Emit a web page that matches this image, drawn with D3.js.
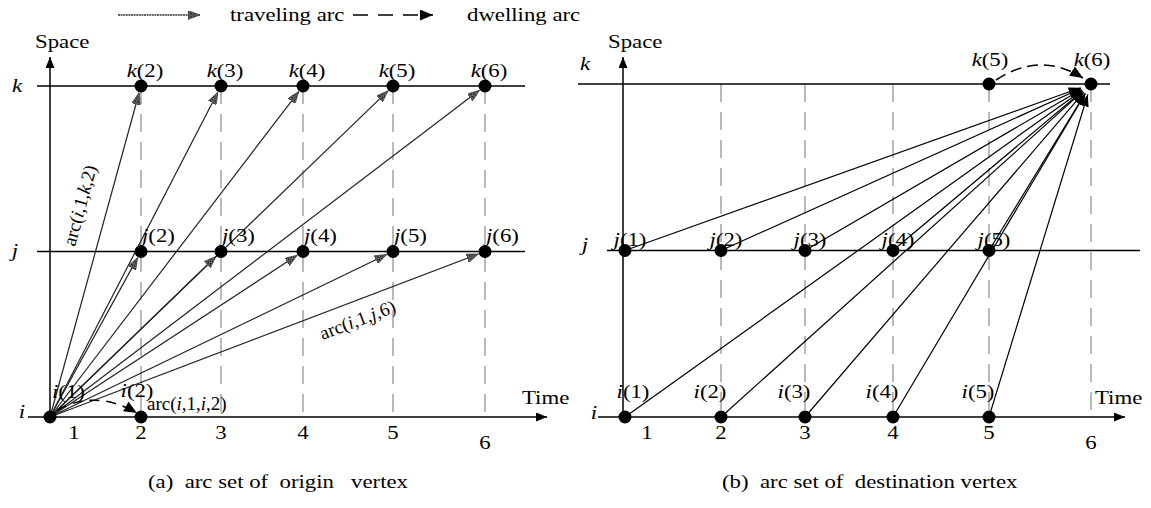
<!DOCTYPE html>
<html><head><meta charset="utf-8">
<script src="https://cdn.jsdelivr.net/npm/d3@7"></script>
<style>
body{margin:0;background:#fff}
svg{display:block;font-family:"Liberation Serif","Times New Roman",serif}
</style>
</head><body>
<svg id="c" width="1151" height="508"></svg>
<script>
// ---------- data ----------
const times = [1, 2, 3, 4, 5, 6];
const spaces = ["i", "j", "k"];
const tickLabels = ["1", "2", "3", "4", "5", "6"];
const legendLabels = ["traveling arc", "dwelling arc"];
const panelTitles = ["(a)  arc set of  origin   vertex", "(b)  arc set of  destination vertex"];
const axisTitles = ["Space", "Time"];

// panel (a): arcs leaving origin vertex i(1)
const originSource = ["i", 1];
const originTravelTargets = [["k",2],["k",3],["k",4],["k",5],["k",6],["j",2],["j",3],["j",4],["j",5],["j",6]];
const originDwellTarget = ["i", 2];
const originNodes = [["i",1],["i",2],["j",2],["j",3],["j",4],["j",5],["j",6],["k",2],["k",3],["k",4],["k",5],["k",6]];
const originArcLabels = [
  {from:["i",1], to:["k",2], parts:["arc(","i",",1,","k",",2)"]},
  {from:["i",1], to:["j",6], parts:["arc(","i",",1,","j",",6)"]},
  {from:["i",1], to:["i",2], parts:["arc(","i",",1,","i",",2)"]}
];

// panel (b): arcs entering destination vertex k(6)
const destTarget = ["k", 6];
const destTravelSources = [["j",1],["j",2],["j",3],["j",4],["j",5],["i",1],["i",2],["i",3],["i",4],["i",5]];
const destDwellSource = ["k", 5];
const destNodes = [["i",1],["i",2],["i",3],["i",4],["i",5],["j",1],["j",2],["j",3],["j",4],["j",5],["k",5],["k",6]];

// ---------- layout ----------
const FS = 19, SX = 1.2;
const svg = d3.select("#c");
const defs = svg.append("defs");

const hatch = defs.append("pattern").attr("id","hatch").attr("patternUnits","userSpaceOnUse")
  .attr("width",3).attr("height",3);
hatch.append("rect").attr("width",3).attr("height",3).attr("fill","#808080");
hatch.append("path").attr("d","M0,0L3,3M3,0L0,3").attr("stroke","#222").attr("stroke-width",0.9);

function marker(id, len, wid, fill, stroke) {
  const m = defs.append("marker").attr("id", id).attr("markerUnits","userSpaceOnUse")
    .attr("viewBox", `0 0 ${len} ${wid}`).attr("markerWidth", len).attr("markerHeight", wid)
    .attr("refX", len).attr("refY", wid/2).attr("orient","auto");
  m.append("path").attr("d", `M0,0L${len},${wid/2}L0,${wid}Z`).attr("fill", fill)
    .attr("stroke", stroke || "none").attr("stroke-width", 0.6);
}
marker("mHatch", 12, 9, "url(#hatch)", "#333");
marker("mBlack", 12, 9, "#000");
marker("mDwell", 13, 11, "#000");
marker("mAxis", 11, 9, "#000");

function stext(g, x, y, anchor, sx) {
  return g.append("text").attr("transform", `translate(${x},${y}) scale(${sx||SX},1)`)
    .attr("text-anchor", anchor || "start").style("font-size", FS + "px").attr("fill","#000");
}
function nodeLabel(g, x, y, anchor, letter, t) {
  const tx = stext(g, x, y, anchor);
  tx.append("tspan").style("font-style","italic").text(letter);
  tx.append("tspan").text(`(${t})`);
}
function shorten(p0, p1, d) {
  const dx = p1[0]-p0[0], dy = p1[1]-p0[1], L = Math.hypot(dx, dy);
  return [p1[0]-dx/L*d, p1[1]-dy/L*d];
}

// legend
const lg = svg.append("g");
lg.append("line").attr("x1",118).attr("y1",15).attr("x2",200).attr("y2",15)
  .attr("stroke","#333").attr("stroke-width",1.4).attr("stroke-dasharray","2,0.6").attr("marker-end","url(#mHatch)");
stext(lg, 230, 21).text(legendLabels[0]);
lg.append("line").attr("x1",353).attr("y1",15).attr("x2",433).attr("y2",15)
  .attr("stroke","#000").attr("stroke-width",1.5).attr("stroke-dasharray","15,10").attr("marker-end","url(#mDwell)");
stext(lg, 467, 21).text(legendLabels[1]);

function drawPanel(cfg) {
  const g = svg.append("g");
  const x = d3.scaleLinear().domain(times).range(cfg.xRange);
  const y = d3.scalePoint().domain(spaces).range(cfg.yRange);
  const P = n => [x(n[1]), y(n[0])];

  g.selectAll(".guide").data(times.slice(1)).join("line")
    .attr("x1", d => x(d)).attr("x2", d => x(d))
    .attr("y1", y("k")).attr("y2", y("i"))
    .attr("stroke","#8c8c8c").attr("stroke-width",1.2).attr("stroke-dasharray","18,10");

  g.append("line").attr("x1",cfg.kLine[0]).attr("x2",cfg.kLine[1]).attr("y1",y("k")).attr("y2",y("k"))
    .attr("stroke","#000").attr("stroke-width",1.3);
  g.append("line").attr("x1",cfg.jLine[0]).attr("x2",cfg.jLine[1]).attr("y1",y("j")).attr("y2",y("j"))
    .attr("stroke","#000").attr("stroke-width",1.3);
  g.append("line").attr("x1",cfg.iLine[0]).attr("x2",cfg.iLine[1]).attr("y1",y("i")).attr("y2",y("i"))
    .attr("stroke","#000").attr("stroke-width",1.5).attr("marker-end","url(#mAxis)");
  g.append("line").attr("x1",cfg.yAxisX).attr("x2",cfg.yAxisX).attr("y1",y("i")).attr("y2",cfg.yAxisTop)
    .attr("stroke","#000").attr("stroke-width",1.5).attr("marker-end","url(#mAxis)");

  stext(g, cfg.yAxisX - 15, 48).text(axisTitles[0]);
  stext(g, cfg.timeX, 404).text(axisTitles[1]);

  spaces.forEach(s => {
    const p = cfg.letterPos[s];
    stext(g, p[0], p[1], "middle").style("font-style","italic").text(s);
  });

  times.forEach((t, k) => {
    const tx = t === 1 ? x(t) + cfg.tick1Shift : x(t);
    const ty = t === 6 ? 449 : 439;
    stext(g, tx, ty, "middle").text(tickLabels[k]);
  });

  return {g, x, y, P};
}

// ---------- panel (a) ----------
const A = drawPanel({
  xRange: [50, 141, 221, 303, 393, 485], yRange: [417, 86],
  kLine: [37, 525], jLine: [37, 525], iLine: [28, 547],
  yAxisX: 50, yAxisTop: 57, timeX: 522, tick1Shift: 24,
  letterPos: {k: [17, 92], j: [15, 257], i: [22, 418]}
});
{
  const src = A.P(originSource);
  A.g.selectAll(".trav").data(originTravelTargets).join("line")
    .attr("x1", src[0]).attr("y1", src[1])
    .attr("x2", d => shorten(src, A.P(d), 7)[0]).attr("y2", d => shorten(src, A.P(d), 7)[1])
    .attr("stroke","#222").attr("stroke-width",1.2).attr("marker-end","url(#mHatch)");
  const dt = A.P(originDwellTarget);
  A.g.append("path")
    .attr("d", `M${src[0]+7},${src[1]-7}Q${(src[0]+dt[0])/2},${src[1]-28} ${dt[0]-4},${dt[1]-4}`)
    .attr("fill","none").attr("stroke","#000").attr("stroke-width",1.5).attr("stroke-dasharray","10,7")
    .attr("marker-end","url(#mDwell)");
  A.g.selectAll(".dot").data(originNodes).join("circle")
    .attr("cx", d => A.P(d)[0]).attr("cy", d => A.P(d)[1]).attr("r", 6.5).attr("fill","#000");
  originNodes.forEach(n => {
    const p = A.P(n);
    if (n[0] === "k") nodeLabel(A.g, p[0]+4, p[1]-9, "middle", n[0], n[1]);
    else if (n[0] === "j") nodeLabel(A.g, p[0]+1, p[1]-10, "start", n[0], n[1]);
    else if (n[1] === 1) nodeLabel(A.g, p[0]+2, p[1]-19, "start", n[0], n[1]);
    else nodeLabel(A.g, p[0]-4, p[1]-20, "middle", n[0], n[1]);
  });
  originArcLabels.forEach((al, idx) => {
    const p0 = A.P(al.from), p1 = A.P(al.to);
    let t;
    if (idx < 2) {
      const ang = Math.atan2(p1[1]-p0[1], p1[0]-p0[0]) * 180 / Math.PI;
      const L = idx === 0 ? 212 : 322;
      const dir = [(p1[0]-p0[0]), (p1[1]-p0[1])], len = Math.hypot(dir[0], dir[1]);
      const cx = p0[0] + dir[0]/len*L, cy = p0[1] + dir[1]/len*L;
      t = A.g.append("text").attr("transform", `translate(${cx},${cy}) rotate(${ang})`)
        .attr("text-anchor","middle").attr("dy", idx === 0 ? -21 : 25);
    } else {
      t = A.g.append("text").attr("x", p1[0]+6).attr("y", p1[1]-7).attr("text-anchor","start");
    }
    t.style("font-size", FS + "px");
    al.parts.forEach((s, k) => t.append("tspan").style("font-style", k % 2 ? "italic" : "normal").text(s));
  });
}

// ---------- panel (b) ----------
const B = drawPanel({
  xRange: [625, 721, 805, 893, 989, 1091], yRange: [417, 84],
  kLine: [578, 1110], jLine: [607, 1140], iLine: [598, 1125],
  yAxisX: 623, yAxisTop: 57, timeX: 1095, tick1Shift: 22,
  letterPos: {k: [585, 70], j: [585, 251], i: [594, 419]}
});
{
  const tgt = B.P(destTarget);
  B.g.selectAll(".trav").data(destTravelSources).join("line")
    .attr("x1", d => B.P(d)[0]).attr("y1", d => B.P(d)[1])
    .attr("x2", d => shorten(B.P(d), tgt, 11)[0]).attr("y2", d => shorten(B.P(d), tgt, 11)[1])
    .attr("stroke","#000").attr("stroke-width",1.2).attr("marker-end","url(#mBlack)");
  const ds = B.P(destDwellSource);
  B.g.append("path")
    .attr("d", `M${ds[0]+7},${ds[1]-4}Q${(ds[0]+tgt[0])/2},${ds[1]-33} ${tgt[0]-8},${tgt[1]-6}`)
    .attr("fill","none").attr("stroke","#000").attr("stroke-width",1.5).attr("stroke-dasharray","11,6")
    .attr("marker-end","url(#mDwell)");
  B.g.selectAll(".dot").data(destNodes).join("circle")
    .attr("cx", d => B.P(d)[0]).attr("cy", d => B.P(d)[1]).attr("r", 6.5).attr("fill","#000");
  destNodes.forEach(n => {
    const p = B.P(n);
    if (n[0] === "k") nodeLabel(B.g, p[0]+1, p[1]-18, "middle", n[0], n[1]);
    else if (n[0] === "j") nodeLabel(B.g, p[0]+5, p[1]-5, "middle", n[0], n[1]);
    else if (n[1] === 1) nodeLabel(B.g, p[0]+8, p[1]-19, "middle", n[0], n[1]);
    else nodeLabel(B.g, p[0]-11, p[1]-19, "middle", n[0], n[1]);
  });
}

stext(svg, 148, 488).style("white-space","pre").text(panelTitles[0]);
stext(svg, 722, 488).style("white-space","pre").text(panelTitles[1]);
</script>
</body></html>
